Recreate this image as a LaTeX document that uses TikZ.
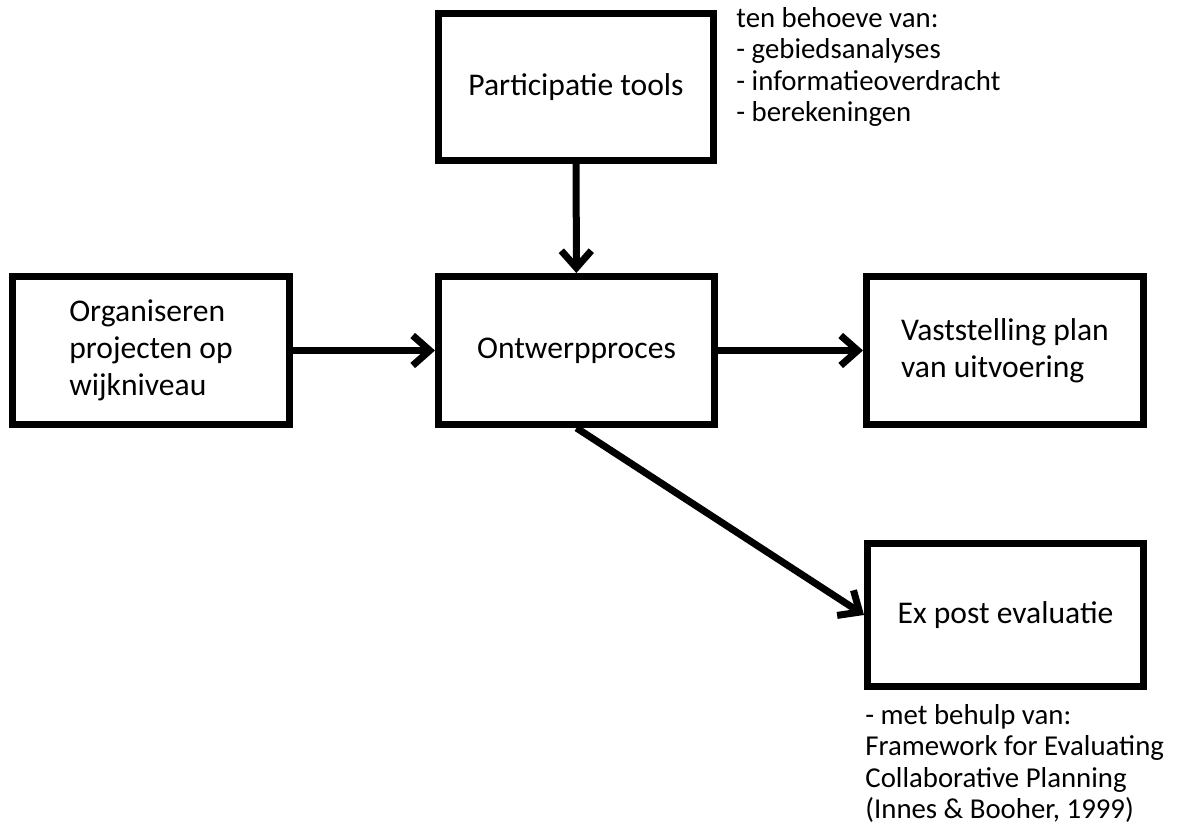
\documentclass[tikz,border=0pt]{standalone}
\usepackage{fontspec}
\setmainfont{Carlito}
\usetikzlibrary{arrows.meta}
\begin{document}
\begin{tikzpicture}[x=0.5pt,y=-0.5pt,
  box/.style={draw=black,line width=3.5pt,rectangle,inner sep=0pt,
    font=\fontsize{15.8}{18.5}\selectfont,align=left},
  conn/.style={line width=3.5pt,-{Straight Barb[length=8.5pt,width=15pt]}},
  note/.style={inner sep=0pt,font=\fontsize{14.4}{15.7}\selectfont,align=left}]
\useasboundingbox (0,0) rectangle (1180,829);
\node[box,minimum width=137.5pt,minimum height=73.5pt] (part) at (576,87) {Participatie tools};
\node[box,minimum width=138.5pt,minimum height=74pt] (org) at (151,350.5) {Organiseren\\projecten op\\wijkniveau};
\node[box,minimum width=138pt,minimum height=74pt] (ont) at (576.5,350.5) {Ontwerpproces};
\node[box,minimum width=138.5pt,minimum height=73.5pt] (vast) at (1005,350.5) {Vaststelling plan\\van uitvoering};
\node[box,minimum width=138pt,minimum height=71.5pt] (ex) at (1005.5,615) {Ex post evaluatie};
\node[note,anchor=north west] (n1) at (736,7) {ten behoeve van:\\- gebiedsanalyses\\- informatieoverdracht\\- berekeningen};
\node[note,anchor=north west] (n2) at (865,704) {- met behulp van:\\Framework for Evaluating\\Collaborative Planning\\(Innes \& Booher, 1999)};
\draw[conn] (part) -- (ont);
\draw[conn] (org) -- (ont);
\draw[conn] (ont) -- (vast);
\draw[conn] (ont.south) -- (ex.west);
\end{tikzpicture}
\end{document}
